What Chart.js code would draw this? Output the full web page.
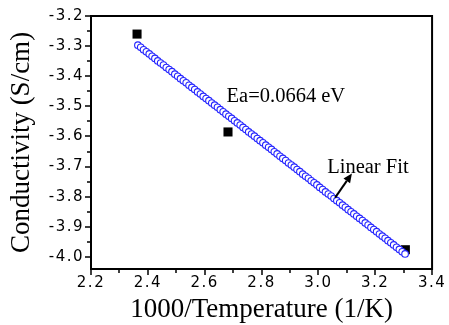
<!DOCTYPE html>
<html><head><meta charset="utf-8">
<script src="https://cdn.jsdelivr.net/npm/chart.js@4"></script>
<style>html,body{margin:0;padding:0;background:#fff}#wrap{width:449px;height:325px}</style>
</head><body><div id="wrap"><canvas id="c" width="449" height="325"></canvas></div>
<script>
// Measured data (black squares)
const measuredX = [2.362, 2.682, 3.306];
const measuredY = [-3.260, -3.585, -3.976];
// Linear fit (open blue circles)
const fitX = [2.365,2.375,2.385,2.395,2.405,2.415,2.425,2.435,2.445,2.455,2.465,2.475,2.485,2.495,2.505,2.515,2.525,2.535,2.545,2.555,2.565,2.575,2.585,2.595,2.605,2.615,2.625,2.635,2.645,2.655,2.665,2.675,2.685,2.695,2.705,2.715,2.725,2.735,2.745,2.755,2.765,2.775,2.785,2.795,2.805,2.815,2.825,2.835,2.845,2.855,2.865,2.875,2.885,2.895,2.905,2.915,2.925,2.935,2.945,2.955,2.965,2.975,2.985,2.995,3.005,3.015,3.025,3.035,3.045,3.055,3.065,3.075,3.085,3.095,3.105,3.115,3.125,3.135,3.145,3.155,3.165,3.175,3.185,3.195,3.205,3.215,3.225,3.235,3.245,3.255,3.265,3.275,3.285,3.295,3.305];
const fitY = [-3.297,-3.304,-3.312,-3.319,-3.326,-3.334,-3.341,-3.349,-3.356,-3.363,-3.371,-3.378,-3.385,-3.393,-3.400,-3.408,-3.415,-3.422,-3.430,-3.437,-3.444,-3.452,-3.459,-3.467,-3.474,-3.481,-3.489,-3.496,-3.503,-3.511,-3.518,-3.526,-3.533,-3.540,-3.548,-3.555,-3.562,-3.570,-3.577,-3.585,-3.592,-3.599,-3.607,-3.614,-3.621,-3.629,-3.636,-3.643,-3.651,-3.658,-3.666,-3.673,-3.680,-3.688,-3.695,-3.702,-3.710,-3.717,-3.725,-3.732,-3.739,-3.747,-3.754,-3.761,-3.769,-3.776,-3.784,-3.791,-3.798,-3.806,-3.813,-3.820,-3.828,-3.835,-3.843,-3.850,-3.857,-3.865,-3.872,-3.879,-3.887,-3.894,-3.902,-3.909,-3.916,-3.924,-3.931,-3.938,-3.946,-3.953,-3.960,-3.968,-3.975,-3.983,-3.990];
// Tick labels
const xTicks = [2.2, 2.4, 2.6, 2.8, 3.0, 3.2, 3.4];
const xMinor = [2.3, 2.5, 2.7, 2.9, 3.1, 3.3];
const yTicks = [-3.2, -3.3, -3.4, -3.5, -3.6, -3.7, -3.8, -3.9, -4.0];
const yMinor = [-3.25, -3.35, -3.45, -3.55, -3.65, -3.75, -3.85, -3.95];
// Annotations (data coordinates)
const eaLabel = {text: 'Ea=0.0664 eV', x: 2.677, y: -3.487};
const fitLabel = {text: 'Linear Fit', x: 3.031, y: -3.720};
const arrowFrom = {x: 3.059, y: -3.803};
const arrowTo = {x: 3.118, y: -3.723};

const framePlugin = {
  id: 'frame',
  afterDatasetsDraw(chart) {
    // slightly wider tick-label spacing as in the reference (labels are drawn after datasets, z = 1)
    chart.ctx.letterSpacing = '1.5px';
  },
  afterDraw(chart) {
    const {ctx, chartArea: a, scales: {x, y}} = chart;
    ctx.letterSpacing = '0px';
    ctx.save();
    ctx.strokeStyle = '#000';
    ctx.lineWidth = 2;
    ctx.strokeRect(a.left, a.top, a.right - a.left, a.bottom - a.top);
    ctx.lineWidth = 1.5;
    ctx.beginPath();
    xTicks.forEach(v => { const p = Math.round(x.getPixelForValue(v)); ctx.moveTo(p, a.bottom); ctx.lineTo(p, a.bottom + 6); });
    xMinor.forEach(v => { const p = Math.round(x.getPixelForValue(v)); ctx.moveTo(p, a.bottom); ctx.lineTo(p, a.bottom + 4); });
    yTicks.forEach(v => { const p = Math.round(y.getPixelForValue(v)); ctx.moveTo(a.left, p); ctx.lineTo(a.left - 6, p); });
    yMinor.forEach(v => { const p = Math.round(y.getPixelForValue(v)); ctx.moveTo(a.left, p); ctx.lineTo(a.left - 4, p); });
    ctx.stroke();
    // annotations
    ctx.fillStyle = '#000';
    ctx.font = '20.5px "Liberation Serif"';
    ctx.textBaseline = 'alphabetic';
    ctx.textAlign = 'left';
    ctx.fillText(eaLabel.text, x.getPixelForValue(eaLabel.x), y.getPixelForValue(eaLabel.y));
    ctx.fillText(fitLabel.text, x.getPixelForValue(fitLabel.x), y.getPixelForValue(fitLabel.y));
    const x1 = x.getPixelForValue(arrowFrom.x), y1 = y.getPixelForValue(arrowFrom.y);
    const x2 = x.getPixelForValue(arrowTo.x), y2 = y.getPixelForValue(arrowTo.y);
    const ang = Math.atan2(y2 - y1, x2 - x1);
    const hl = 9, hw = 4;
    ctx.lineWidth = 2;
    ctx.beginPath();
    ctx.moveTo(x1, y1);
    ctx.lineTo(x2 - hl * Math.cos(ang), y2 - hl * Math.sin(ang));
    ctx.stroke();
    ctx.beginPath();
    ctx.moveTo(x2, y2);
    ctx.lineTo(x2 - hl * Math.cos(ang) + hw * Math.sin(ang), y2 - hl * Math.sin(ang) - hw * Math.cos(ang));
    ctx.lineTo(x2 - hl * Math.cos(ang) - hw * Math.sin(ang), y2 - hl * Math.sin(ang) + hw * Math.cos(ang));
    ctx.closePath();
    ctx.fill();
    ctx.restore();
  }
};

new Chart(document.getElementById('c'), {
  type: 'scatter',
  data: {
    datasets: [
      {
        label: 'Linear Fit',
        data: fitX.map((v, i) => ({x: v, y: fitY[i]})),
        pointStyle: 'circle',
        pointRadius: 3.3,
        borderColor: '#2525ff',
        backgroundColor: '#ffffff',
        borderWidth: 1.1,
        order: 0
      },
      {
        label: 'Conductivity',
        data: measuredX.map((v, i) => ({x: v, y: measuredY[i]})),
        pointStyle: 'rect',
        pointRadius: 6.4,
        borderColor: '#000',
        backgroundColor: '#000',
        borderWidth: 0,
        order: 1
      }
    ]
  },
  options: {
    responsive: false,
    animation: false,
    devicePixelRatio: 1,
    layout: {padding: {top: 15, right: 13, left: 0, bottom: 0}},
    plugins: {legend: {display: false}, tooltip: {enabled: false}},
    scales: {
      x: {
        type: 'linear', min: 2.2, max: 3.4,
        afterBuildTicks: s => { s.ticks = xTicks.map(v => ({value: v})); },
        afterFit: s => { s.height = 56; },
        grid: {display: false, drawTicks: false},
        border: {display: false},
        ticks: {z: 1, font: {family: 'DejaVu Sans', size: 15}, color: '#000', padding: 5, maxRotation: 0, autoSkip: false, callback: v => Number(v).toFixed(1)},
        title: {display: true, text: '1000/Temperature (1/K)', color: '#000', font: {family: 'Liberation Serif', size: 27, lineHeight: 1.1}, padding: {top: 0, bottom: 0}}
      },
      y: {
        type: 'linear', min: -4.04, max: -3.2,
        afterBuildTicks: s => { s.ticks = yTicks.map(v => ({value: v})); },
        afterFit: s => { s.width = 91; },
        grid: {display: false, drawTicks: false},
        border: {display: false},
        ticks: {z: 1, font: {family: 'DejaVu Sans', size: 15}, color: '#000', padding: 7, autoSkip: false, callback: v => Number(v).toFixed(1)},
        title: {display: true, text: 'Conductivity (S/cm)', color: '#000', font: {family: 'Liberation Serif', size: 27, lineHeight: 1.2}, padding: {top: 6, bottom: 0}}
      }
    }
  },
  plugins: [framePlugin]
});
</script></body></html>
